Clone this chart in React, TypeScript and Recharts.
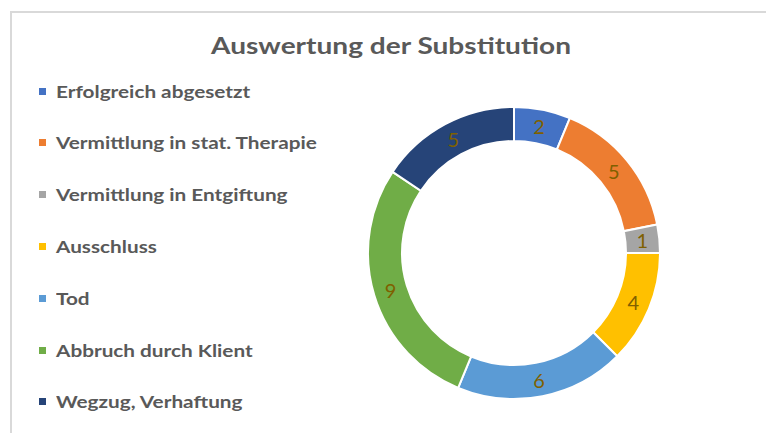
import React from "react";
import { PieChart, Pie, Cell } from "recharts";

const categories = [
  "Erfolgreich abgesetzt",
  "Vermittlung in stat. Therapie",
  "Vermittlung in Entgiftung",
  "Ausschluss",
  "Tod",
  "Abbruch durch Klient",
  "Wegzug, Verhaftung",
];
const values = [2, 5, 1, 4, 6, 9, 5];
const colors = ["#4472C4", "#ED7D31", "#A5A5A5", "#FFC000", "#5B9BD5", "#70AD47", "#264478"];
const title = "Auswertung der Substitution";

const data = categories.map((name, i) => ({ name, value: values[i] }));

const FONT = "Lato, 'Open Sans', sans-serif";
const RADIAN = Math.PI / 180;

const renderLabel = (props: any) => {
  const { cx, cy, midAngle, innerRadius, outerRadius, value } = props;
  const r = (innerRadius + outerRadius) / 2;
  const x = cx + r * Math.cos(-midAngle * RADIAN);
  const y = cy + r * Math.sin(-midAngle * RADIAN);
  return (
    <text x={x} y={y} fill="#7F6000" textAnchor="middle" dominantBaseline="central" fontSize={20} fontFamily={FONT}>
      {value}
    </text>
  );
};

export default function App() {
  return (
    <div style={{ position: "absolute", left: 0, top: 0, width: 766, height: 433, overflow: "hidden", background: "#fff" }}>
      <div style={{ position: "absolute", left: 10, top: 11, width: 760, height: 440, border: "2px solid #D9D9D9", boxSizing: "border-box" }} />
      <div style={{ position: "absolute", left: 0, top: 31, width: 782, textAlign: "center", fontFamily: FONT, fontSize: 23, fontWeight: 700, color: "#595959", transform: "scaleX(1.22)", transformOrigin: "391px 0" }}>
        {title}
      </div>
      <div style={{ position: "absolute", left: 39, top: 81, fontFamily: FONT }}>
        {categories.map((c, i) => (
          <div key={c} style={{ position: "absolute", left: 0, top: i * 51.8, height: 20, display: "flex", alignItems: "center" }}>
            <span style={{ display: "inline-block", width: 7, height: 7, background: colors[i], marginRight: 10 }} />
            <span style={{ fontSize: 17, fontWeight: 700, color: "#595959", whiteSpace: "nowrap", display: "inline-block", transform: "scaleX(1.22)", transformOrigin: "0 50%" }}>{c}</span>
          </div>
        ))}
      </div>
      <div style={{ position: "absolute", left: 0, top: 0 }}>
        <PieChart width={766} height={433} margin={{ top: 0, right: 0, bottom: 0, left: 0 }}>
          <Pie
            data={data}
            dataKey="value"
            nameKey="name"
            cx={514}
            cy={253}
            innerRadius={112}
            outerRadius={146}
            startAngle={90}
            endAngle={-270}
            stroke="#FFFFFF"
            strokeWidth={2}
            label={renderLabel}
            labelLine={false}
            isAnimationActive={false}
          >
            {data.map((d, i) => (
              <Cell key={d.name} fill={colors[i]} />
            ))}
          </Pie>
        </PieChart>
      </div>
    </div>
  );
}
